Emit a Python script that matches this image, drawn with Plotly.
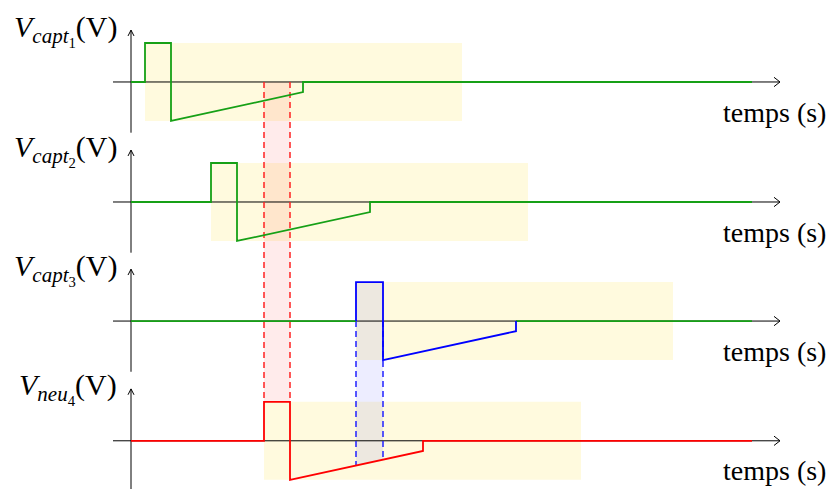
import numpy as np
import plotly.graph_objects as go

# time in units of 10 px, voltage in units of pulse amplitude
T_END = 62.1            # where every trace stops
WINDOW = 31.7           # length of the highlighted (yellow) window
RAMP_END_V = -0.26

# pulse start / pulse end / ramp end for each channel
starts = [1.4, 8.0, 22.5, 13.3]
ends = [4.0, 10.6, 25.2, 15.9]
ramp_ends = [17.2, 23.9, 38.5, 29.2]
offsets = [0.0, -3.077, -6.13, -9.2]   # vertical position of each zero line
labels = ["<i>V</i><sub><i>capt</i><sub>1</sub></sub>(V)",
          "<i>V</i><sub><i>capt</i><sub>2</sub></sub>(V)",
          "<i>V</i><sub><i>capt</i><sub>3</sub></sub>(V)",
          "<i>V</i><sub><i>neu</i><sub>4</sub></sub>(V)"]
pulse_colors = ["#16a016", "#16a016", "#0000ff", "#ff0000"]
base_colors = ["#16a016", "#16a016", "#16a016", "#ff0000"]

FONT = "Liberation Serif"
LW = 1.8
fig = go.Figure()
shapes = []
annotations = []

# yellow windows
for s, off in zip(starts, offsets):
    shapes.append(dict(type="rect", xref="x", yref="y", x0=s, x1=s + WINDOW,
                       y0=off - 1, y1=off + 1, fillcolor="rgb(255,250,222)",
                       line_width=0, layer="below"))

# red band : channel 4 pulse seen from channel 1 zero to channel 4 top
r0, r1 = starts[3], ends[3]
shapes.append(dict(type="rect", xref="x", yref="y", x0=r0, x1=r1,
                   y0=offsets[3] + 1, y1=offsets[0], fillcolor="rgba(255,0,0,0.08)",
                   line_width=0, layer="below"))

# blue band : channel 3 pulse projected on channel 4 ramp
def sig(i):
    off = offsets[i]
    x = [0, starts[i], starts[i], ends[i], ends[i], ramp_ends[i], ramp_ends[i], T_END]
    y = [0, 0, 1, 1, -1, RAMP_END_V, 0, 0]
    return np.array(x), np.array(y) + off

ramp_x = [ends[3], ramp_ends[3]]
ramp_y = [offsets[3] - 1, offsets[3] + RAMP_END_V]
b0, b1 = starts[2], ends[2]
yb0, yb1 = np.interp([b0, b1], ramp_x, ramp_y)
shapes.append(dict(type="path", xref="x", yref="y", layer="below",
                   path=f"M {b0},{offsets[2] + 1} L {b1},{offsets[2] + 1} "
                        f"L {b1},{yb1} L {b0},{yb0} Z",
                   fillcolor="rgba(0,0,255,0.07)", line_width=0))

# axes with open arrow tips
for off in offsets:
    shapes.append(dict(type="line", xref="x", yref="y", x0=-1.8, x1=64.9, y0=off, y1=off,
                       line=dict(color="black", width=1), layer="below"))
    shapes.append(dict(type="line", xref="x", yref="y", x0=0, x1=0, y0=off - 1.3, y1=off + 1.33,
                       line=dict(color="black", width=1), layer="below"))
    shapes.append(dict(type="path", xref="x", yref="y", layer="below",
                       path=f"M 64.3,{off + 0.12} L 64.9,{off} L 64.3,{off - 0.12}",
                       line=dict(color="black", width=1)))
    shapes.append(dict(type="path", xref="x", yref="y", layer="below",
                       path=f"M -0.3,{off + 1.18} L 0,{off + 1.33} L 0.3,{off + 1.18}",
                       line=dict(color="black", width=1)))

# dashed guides
for xv in (r0, r1):
    fig.add_trace(go.Scatter(x=[xv, xv], y=[offsets[0], offsets[3] + 1], mode="lines",
                             line=dict(color="#ff2020", width=1.5, dash="6px,4px"),
                             hoverinfo="skip"))
for xv, yv in ((b0, yb0), (b1, yb1)):
    fig.add_trace(go.Scatter(x=[xv, xv], y=[offsets[2], yv], mode="lines",
                             line=dict(color="#2020ff", width=1.5, dash="6px,4px"),
                             hoverinfo="skip"))

# signals
for i in range(4):
    x, y = sig(i)
    if base_colors[i] != pulse_colors[i]:
        off = offsets[i]
        fig.add_trace(go.Scatter(x=[0, starts[i]], y=[off, off], mode="lines",
                                 line=dict(color=base_colors[i], width=LW)))
        fig.add_trace(go.Scatter(x=[ramp_ends[i], T_END], y=[off, off], mode="lines",
                                 line=dict(color=base_colors[i], width=LW)))
        x, y = x[1:-1], y[1:-1]
    fig.add_trace(go.Scatter(x=x, y=y, mode="lines",
                             line=dict(color=pulse_colors[i], width=LW)))

for lab, off in zip(labels, offsets):
    annotations.append(dict(x=-1.2, y=off + 1.33, xref="x", yref="y", text=lab,
                            showarrow=False, xanchor="right", yanchor="middle",
                            font=dict(family=FONT, size=30, color="black")))
    annotations.append(dict(x=69.7, y=off - 0.77, xref="x", yref="y", text="temps (s)",
                            showarrow=False, xanchor="right", yanchor="middle",
                            font=dict(family=FONT, size=28, color="black")))

# the page puts the figure 8 px in from the corner, so the figure covers 826x481
fig.update_layout(
    width=826, height=481, margin=dict(l=0, r=0, t=0, b=0),
    paper_bgcolor="white", plot_bgcolor="white", showlegend=False,
    shapes=shapes, annotations=annotations,
    xaxis=dict(range=[-12.3, 70.3], visible=False, fixedrange=True),
    yaxis=dict(range=[-10.436, 1.897], visible=False, fixedrange=True),
)
fig.write_html("out.html")
